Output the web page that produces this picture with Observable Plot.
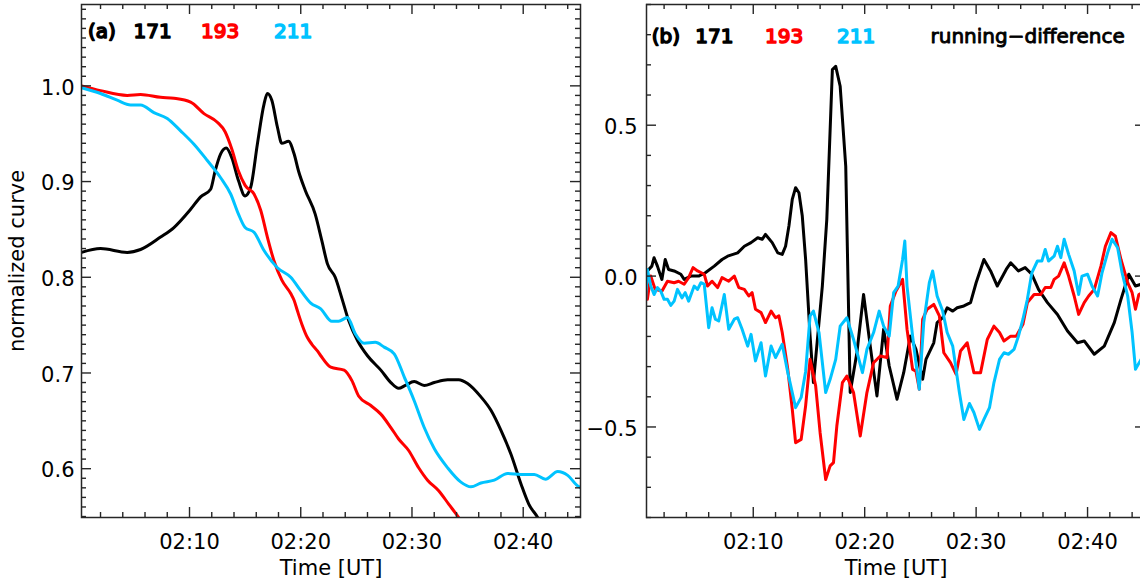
<!DOCTYPE html>
<html>
<head>
<meta charset="utf-8">
<script src="https://cdn.jsdelivr.net/npm/d3@7"></script>
<script src="https://cdn.jsdelivr.net/npm/@observablehq/plot@0.6"></script>
<style>
html, body { margin: 0; padding: 0; background: #fff; overflow: hidden; }
#wrap { position: relative; width: 1140px; height: 586px; overflow: hidden; background: #fff; }
#pa, #pb { position: absolute; top: 0; }
#pa { left: 0; width: 582px; }
#pb { left: 580px; width: 570px; }
</style>
</head>
<body>
<div id="wrap"><div id="pa"></div><div id="pb"></div></div>
<script>
// ---- categories / labels ----
const bands = ["171", "193", "211"];
const bandColors = ["#000000", "#ff0000", "#00c3ff"];
const xTickMinutes = [10, 20, 30, 40];           // minutes after 02:00
const xTickLabels = ["02:10", "02:20", "02:30", "02:40"];
const aYTicks = [0.6, 0.7, 0.8, 0.9, 1.0];
const bYTicks = [-0.5, 0.0, 0.5];

// ---- panel (a): normalized curves (time in minutes after 02:00 UT) ----
const a171t = [0.3,2.0,4.4,5.6,7.4,8.6,10.1,11.0,11.9,12.3,12.8,13.3,13.8,14.4,15.0,15.5,16.1,16.7,17.0,17.4,17.9,18.3,18.9,19.4,19.8,20.4,21.3,21.9,22.4,23.1,23.7,24.3,25.1,26.0,27.2,28.1,28.8,29.4,30.2,31.1,32.0,33.2,34.2,35.0,36.2,37.1,38.0,38.9,39.8,40.5,41.3,41.9];
const a171v = [0.826,0.830,0.826,0.829,0.842,0.852,0.871,0.884,0.892,0.911,0.929,0.935,0.925,0.901,0.885,0.894,0.939,0.981,0.992,0.985,0.957,0.940,0.942,0.929,0.911,0.891,0.866,0.838,0.814,0.800,0.778,0.755,0.734,0.718,0.703,0.690,0.684,0.687,0.691,0.687,0.690,0.693,0.693,0.689,0.675,0.661,0.640,0.615,0.584,0.563,0.549,0.535];
const a193t = [0.3,2.0,4.4,5.6,7.4,8.6,10.1,11.3,12.5,13.2,13.8,14.4,15.0,15.8,16.4,17.0,17.6,18.3,19.1,19.4,19.7,20.1,20.6,21.0,21.5,21.8,22.7,23.9,24.6,25.2,26.3,27.2,28.1,28.8,29.7,30.6,31.4,32.4,33.3,34.2,34.8];
const a193v = [1.000,0.995,0.990,0.991,0.988,0.987,0.983,0.971,0.962,0.952,0.934,0.911,0.896,0.887,0.870,0.842,0.817,0.797,0.783,0.776,0.765,0.751,0.737,0.730,0.723,0.718,0.706,0.703,0.692,0.676,0.666,0.657,0.643,0.631,0.619,0.601,0.588,0.577,0.563,0.549,0.538];
const a211t = [0.3,2.0,3.5,4.7,5.6,6.8,8.0,9.2,10.4,11.6,12.8,13.7,14.4,15.0,15.8,16.7,17.9,19.1,20.0,20.9,21.8,22.8,23.4,24.2,24.9,25.7,26.7,27.5,28.4,29.3,30.2,31.1,32.0,33.2,34.4,35.3,36.2,37.4,38.6,39.8,41.0,42.0,43.1,44.0,44.9,45.2];
const a211v = [0.998,0.992,0.985,0.980,0.980,0.972,0.966,0.953,0.939,0.922,0.904,0.887,0.866,0.852,0.847,0.828,0.810,0.800,0.786,0.773,0.767,0.754,0.754,0.758,0.741,0.731,0.732,0.727,0.720,0.696,0.671,0.643,0.621,0.601,0.586,0.581,0.585,0.588,0.595,0.594,0.594,0.589,0.597,0.593,0.582,0.580];

// ---- panel (b): running-difference ----
const b171t = [0.5,0.9,1.1,1.4,1.8,2.1,2.4,2.9,3.5,3.8,4.4,5.1,5.7,6.5,7.2,7.7,8.6,9.2,9.8,10.4,10.8,11.1,11.7,12.2,12.6,12.9,13.2,13.5,13.8,14.1,14.4,14.7,15.1,15.4,16.2,16.6,17.1,17.4,17.8,18.3,18.7,19.3,19.9,20.5,21.1,21.7,22.2,22.9,23.5,24.1,24.6,25.2,25.5,26.2,26.5,27.0,27.4,27.9,28.3,28.9,29.5,30.0,30.7,31.3,31.9,32.7,33.1,33.8,34.4,35.0,35.6,36.4,37.3,38.2,39.1,39.7,40.6,41.5,42.4,43.0,43.7,44.3,44.8,45.2];
const b171v = [0.017,0.033,0.061,0.033,-0.011,0.055,0.022,0.017,0.006,-0.011,0.0,0.0,0.011,0.033,0.055,0.066,0.077,0.099,0.111,0.127,0.122,0.138,0.111,0.077,0.072,0.099,0.166,0.254,0.293,0.276,0.199,0.055,-0.199,-0.353,-0.033,0.188,0.684,0.695,0.629,0.364,-0.386,-0.254,-0.061,-0.232,-0.397,-0.176,-0.298,-0.408,-0.320,-0.199,-0.243,-0.342,-0.276,-0.221,-0.154,-0.138,-0.105,-0.116,-0.105,-0.099,-0.088,-0.022,0.055,0.017,-0.033,0.022,0.044,0.017,0.028,0.006,-0.044,-0.088,-0.127,-0.182,-0.221,-0.215,-0.259,-0.232,-0.154,-0.077,0.006,-0.033,-0.027,-0.020];
const b193t = [0.5,0.8,1.2,1.8,2.3,2.9,3.3,3.8,4.2,4.6,5.0,5.6,5.9,6.3,6.8,7.2,7.8,8.3,8.7,9.2,9.6,9.9,10.2,10.7,11.1,11.6,12.0,12.3,12.6,13.1,13.5,13.8,14.3,14.7,15.1,15.6,16.0,16.5,16.9,17.2,17.5,18.0,18.4,19.0,19.6,20.2,20.8,21.4,22.0,22.3,22.8,23.4,23.8,24.3,24.6,24.9,25.2,25.6,26.2,26.7,27.1,27.7,28.2,28.6,29.2,29.8,30.4,31.0,31.6,32.1,32.5,33.1,33.6,34.2,34.6,35.2,35.8,36.2,36.7,37.0,37.4,37.9,38.3,38.8,39.2,39.7,40.1,40.6,41.2,41.6,42.1,42.5,43.0,43.6,44.0,44.3,44.6,45.2];
const b193v = [-0.077,0.0,-0.044,-0.050,-0.017,-0.022,-0.017,-0.027,-0.005,0.028,0.017,0.006,-0.033,-0.017,-0.038,-0.005,-0.017,0.0,-0.038,-0.044,-0.066,-0.055,-0.110,-0.121,-0.154,-0.116,-0.138,-0.132,-0.187,-0.309,-0.441,-0.552,-0.541,-0.430,-0.276,-0.364,-0.519,-0.674,-0.629,-0.618,-0.497,-0.353,-0.331,-0.386,-0.530,-0.386,-0.287,-0.265,-0.270,-0.099,-0.050,-0.011,-0.176,-0.309,-0.315,-0.375,-0.143,-0.110,-0.094,-0.132,-0.254,-0.287,-0.325,-0.248,-0.221,-0.320,-0.320,-0.210,-0.166,-0.187,-0.215,-0.199,-0.199,-0.160,-0.088,-0.061,-0.061,-0.038,-0.038,-0.011,0.0,0.044,0.0,-0.066,-0.127,-0.088,-0.066,-0.044,0.033,0.099,0.144,0.132,0.055,-0.022,-0.055,-0.110,-0.061,-0.050];
const b211t = [0.3,0.5,0.8,1.1,1.4,1.7,2.0,2.3,2.6,2.9,3.2,3.6,3.9,4.2,4.7,5.0,5.3,5.6,6.0,6.3,6.6,6.9,7.4,7.8,8.3,8.6,9.0,9.5,9.8,10.2,10.7,11.1,11.6,12.0,12.6,13.1,13.5,13.8,14.3,14.7,15.1,15.4,15.9,16.5,16.9,17.4,17.8,18.4,19.0,19.8,20.2,20.8,21.3,21.7,22.2,22.6,23.0,23.4,23.6,23.8,24.3,24.9,25.3,25.8,26.1,26.5,27.0,27.4,27.9,28.5,28.9,29.4,29.8,30.3,30.7,31.2,31.6,32.1,32.5,32.9,33.4,33.8,34.2,34.6,35.0,35.5,35.9,36.2,36.5,37.0,37.3,37.6,37.9,38.3,38.8,39.2,39.5,40.0,40.4,40.9,41.3,41.8,42.2,42.7,43.1,43.6,44.0,44.3,44.8,45.2];
const b211v = [-0.105,0.022,-0.033,-0.061,-0.038,-0.050,-0.077,-0.077,-0.097,-0.083,-0.044,-0.072,-0.055,-0.083,-0.033,-0.044,-0.022,-0.027,-0.171,-0.105,-0.143,-0.149,-0.061,-0.176,-0.143,-0.138,-0.176,-0.232,-0.193,-0.281,-0.221,-0.331,-0.232,-0.270,-0.226,-0.320,-0.386,-0.436,-0.402,-0.316,-0.132,-0.116,-0.187,-0.386,-0.342,-0.276,-0.166,-0.138,-0.210,-0.320,-0.243,-0.187,-0.116,-0.166,-0.199,-0.055,-0.033,0.055,0.116,-0.033,-0.199,-0.375,-0.154,-0.022,0.017,-0.066,-0.116,-0.187,-0.232,-0.386,-0.475,-0.422,-0.452,-0.508,-0.475,-0.436,-0.353,-0.276,-0.254,-0.259,-0.243,-0.199,-0.143,-0.077,0.011,0.050,0.050,0.088,0.050,0.066,0.099,0.061,0.122,0.072,0.017,-0.061,0.0,0.006,-0.033,-0.066,0.011,0.077,0.122,0.094,0.011,-0.066,-0.187,-0.309,-0.276,-0.270];

// ---- build tables ----
function rowsOf(pairs) {
  const out = [];
  pairs.forEach(([t, v], k) => t.forEach((x, i) => out.push({t: x, v: v[i], band: bands[k]})));
  return out;
}
const rowsA = rowsOf([[a171t, a171v], [a193t, a193v], [a211t, a211v]]);
const rowsB = rowsOf([[b171t, b171v], [b193t, b193v], [b211t, b211v]]);

const FONT = "'DejaVu Sans', 'Liberation Sans', sans-serif";
const H = 586, MT = 4, MB = 69;
const frameColor = "#262626";
const xMinor = d3.range(2, 46, 2).filter(m => !xTickMinutes.includes(m));

function panel(o) {
  const innerH = H - MT - MB;
  const innerW = o.width - o.marginLeft - o.marginRight;
  const tk = {stroke: frameColor, strokeWidth: 1.4};
  const ticks = (xs, ys, len) => [
    Plot.ruleX(xs, {x: d => d, insetTop: innerH - len, ...tk}),
    Plot.ruleX(xs, {x: d => d, insetBottom: innerH - len, ...tk}),
    Plot.ruleY(ys, {y: d => d, insetRight: innerW - len, ...tk}),
    Plot.ruleY(ys, {y: d => d, insetLeft: innerW - len, ...tk})
  ];
  const legendStyle = {frameAnchor: "top-left", textAnchor: "start", lineAnchor: "bottom",
                       fontSize: 20, strokeWidth: 1.6, paintOrder: "stroke", strokeLinejoin: "round"};
  const marks = [
    Plot.line(o.rows, {x: "t", y: "v", z: "band", stroke: "band", strokeWidth: 3,
                       curve: o.curve, clip: true, strokeLinejoin: "round"}),
    ...ticks(o.xMajor, o.yMajor, 10),
    ...ticks(xMinor, o.yMinor, 5),
    Plot.frame({stroke: frameColor, strokeWidth: 1.5}),
    Plot.axisX(xTickMinutes, {anchor: "bottom", tickSize: 0, tickPadding: 17, label: null,
               tickFormat: d => xTickLabels[xTickMinutes.indexOf(d)], fontSize: 21}),
    Plot.axisY(o.yMajor, {anchor: "left", tickSize: 0, tickPadding: o.yPad, label: null,
               tickFormat: d3.format(".1f"), dy: 2, fontSize: 21}),
    Plot.text(["Time [UT]"], {frameAnchor: "bottom", lineAnchor: "bottom", dy: 57.5, fontSize: 21}),
    Plot.text([o.tag], {...legendStyle, dx: o.legendDx[0], dy: o.legendDy, fill: "#000", stroke: "#000"}),
    ...bands.map((b, i) => Plot.text([b], {...legendStyle, dx: o.legendDx[i + 1], dy: o.legendDy,
                                           fill: bandColors[i], stroke: bandColors[i]})),
    ...(o.extra || [])
  ];
  return Plot.plot({
    width: o.width, height: H,
    marginLeft: o.marginLeft, marginRight: o.marginRight, marginTop: MT, marginBottom: MB,
    style: {fontFamily: FONT, fontSize: "21px", background: "transparent", maxWidth: "none", overflow: "visible", color: "#000"},
    x: {domain: o.xDomain, axis: null},
    y: {domain: o.yDomain, axis: null},
    color: {domain: bands, range: bandColors},
    marks
  });
}

const figA = panel({
  width: 582, marginLeft: 81, marginRight: 2,
  xDomain: [0.29, 45.15], yDomain: [0.549, 1.085],
  xMajor: xTickMinutes, yMajor: aYTicks,
  yMinor: d3.range(55, 109).map(d => d / 100).filter(d => !aYTicks.some(m => Math.abs(m - d) < 1e-9)),
  yPad: 7, rows: rowsA, curve: "monotone-x",
  tag: "(a)", legendDx: [6.5, 52, 119.5, 192.5], legendDy: 33.3,
  extra: [
    Plot.text(["normalized curve"], {frameAnchor: "left", rotate: -90, textAnchor: "middle",
              lineAnchor: "bottom", dx: -57.5, fontSize: 21})
  ]
});

const figB = panel({
  width: 565, marginLeft: 66, marginRight: 0,
  xDomain: [0.42, 45.2], yDomain: [-0.8, 0.9],
  xMajor: xTickMinutes, yMajor: bYTicks,
  yMinor: d3.range(-8, 10).map(d => d / 10).filter(d => !bYTicks.some(m => Math.abs(m - d) < 1e-9)),
  yPad: 9, rows: rowsB, curve: "linear",
  tag: "(b)", legendDx: [5.2, 48.7, 118.5, 190.6], legendDy: 38.7,
  extra: [
    Plot.text(["running\u2212difference"], {frameAnchor: "top-left", textAnchor: "start", lineAnchor: "bottom",
              dx: 284, dy: 38.7, fontSize: 20, fill: "#000", stroke: "#000", strokeWidth: 0.9, paintOrder: "stroke"})
  ]
});

document.getElementById("pa").appendChild(figA);
document.getElementById("pb").appendChild(figB);
</script>
</body>
</html>
